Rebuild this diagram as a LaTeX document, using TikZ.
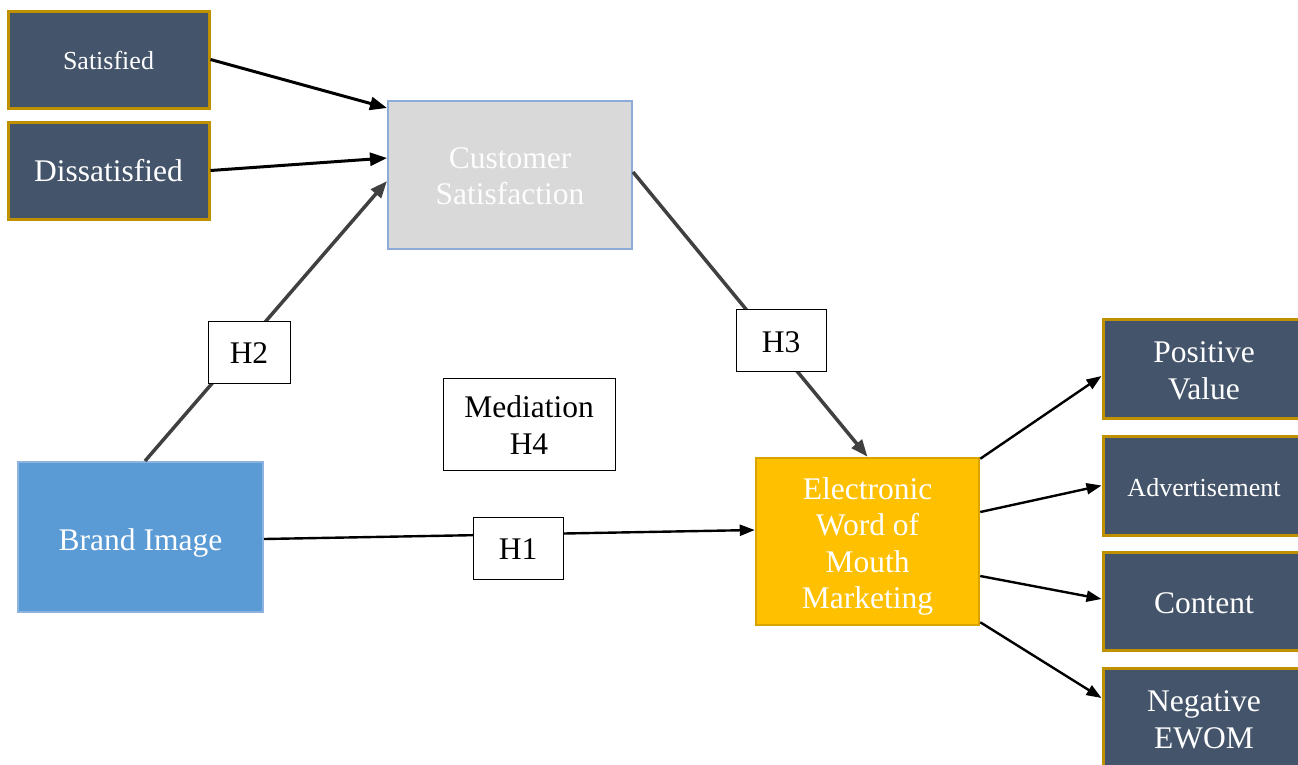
\documentclass[tikz,border=0pt]{standalone}
\usepackage{fontspec}
\setmainfont{Liberation Serif}
\usetikzlibrary{arrows.meta}
\definecolor{slate}{HTML}{44546A}
\definecolor{goldline}{HTML}{BF9000}
\definecolor{csfill}{HTML}{D9D9D9}
\definecolor{csline}{HTML}{8EAADB}
\definecolor{bifill}{HTML}{5B9BD5}
\definecolor{biline}{HTML}{8FB3E0}
\definecolor{ewfill}{HTML}{FFC000}
\definecolor{ewline}{HTML}{D9A300}
\definecolor{darkgrey}{HTML}{404040}
% centred block of lines, lowered without changing its declared size
\newcommand\droptext[2]{\raisebox{-#1}[\height][\depth]{\begin{tabular}{@{}c@{}}#2\end{tabular}}}
\tikzset{
  big/.style={font=\fontsize{31.5}{36.5}\selectfont},
  small/.style={font=\fontsize{26}{30}\selectfont},
  dim/.style={draw=goldline, line width=3pt, fill=slate, text=white, inner sep=0pt},
  hypo/.style={draw=black, line width=1pt, fill=white, text=black, inner sep=0pt, big},
  blackarrow/.style={draw=black, line width=3pt, -{Triangle[length=17pt,width=13pt]}},
  thinarrow/.style={draw=black, line width=2.4pt, -{Triangle[length=15pt,width=11pt]}},
  greyarrow/.style={draw=darkgrey, line width=3.5pt, -{Triangle[length=17pt,width=13pt]}},
}
\begin{document}
\begin{tikzpicture}[x=1pt,y=-1pt]
\useasboundingbox (0,0) rectangle (1298,764);

% left-hand satisfaction dimensions
\node[dim, small, minimum width=201pt, minimum height=97pt] (sat) at (108.5,59.5) {\droptext{4pt}{Satisfied}};
\node[dim, big, minimum width=201pt, minimum height=97pt] (dis) at (108.5,170.5) {\droptext{4pt}{Dissatisfied}};

% main constructs
\node[draw=csline, line width=2pt, fill=csfill, text=white!95!csfill,
  inner sep=0pt, big, minimum width=244pt, minimum height=148pt] (cs) at (510,175)
  {\droptext{4pt}{Customer\\Satisfaction}};
\node[draw=biline, line width=2pt, fill=bifill, text=white,
  inner sep=0pt, big, minimum width=245pt, minimum height=150pt] (bi) at (140.5,537)
  {\droptext{6pt}{Brand Image}};
\node[draw=ewline, line width=2.5pt, fill=ewfill, text=white,
  inner sep=0pt, big, minimum width=223pt, minimum height=167pt] (ew) at (867.5,541.5)
  {\droptext{5pt}{Electronic\\Word of\\Mouth\\Marketing}};

% right-hand eWOM dimensions
\node[dim, big, minimum width=202pt, minimum height=99pt] (pv) at (1204,368.5) {\droptext{5pt}{Positive\\Value}};
\node[dim, small, minimum width=202pt, minimum height=99pt] (adv) at (1204,485.5) {\droptext{5pt}{Advertisement}};
\node[dim, big, minimum width=202pt, minimum height=98pt] (con) at (1204,601) {\droptext{5.5pt}{Content}};
\node[dim, big, minimum width=202pt, minimum height=99pt] (neg) at (1204,717.5) {\droptext{5pt}{Negative\\EWOM}};

% paths into customer satisfaction
\draw[blackarrow] (sat.east) -- ([yshift=67pt]cs.west);
\draw[blackarrow] (dis.east) -- ([yshift=17pt]cs.west);
\draw[greyarrow] ([xshift=4.5pt]bi.north) -- ([yshift=-6pt]cs.west);

% paths into eWOM
\draw[greyarrow] ([yshift=3pt]cs.east) -- (ew.north);
\draw[thinarrow] ([yshift=-2pt]bi.east) -- ([yshift=11.5pt]ew.west);

% paths out of eWOM
\draw[thinarrow] ([yshift=-2pt]ew.north east) -- ([yshift=-7.5pt]pv.west);
\draw[thinarrow] ([yshift=29.5pt]ew.east) -- (adv.west);
\draw[thinarrow] ([yshift=-34.5pt]ew.east) -- ([yshift=2pt]con.west);
\draw[thinarrow] ([yshift=4pt]ew.south east) -- ([yshift=19.5pt]neg.west);

% hypothesis labels
\node[hypo, minimum width=82pt, minimum height=62pt] (h2) at (249,352) {\droptext{4pt}{H2}};
\node[hypo, minimum width=90pt, minimum height=62pt] (h3) at (781,340) {\droptext{5pt}{H3}};
\node[hypo, minimum width=172pt, minimum height=92pt] (h4) at (529,424) {\droptext{4.5pt}{Mediation\\H4}};
\node[hypo, minimum width=90pt, minimum height=62pt] (h1) at (518,548) {\droptext{4pt}{H1}};
\end{tikzpicture}
\end{document}
